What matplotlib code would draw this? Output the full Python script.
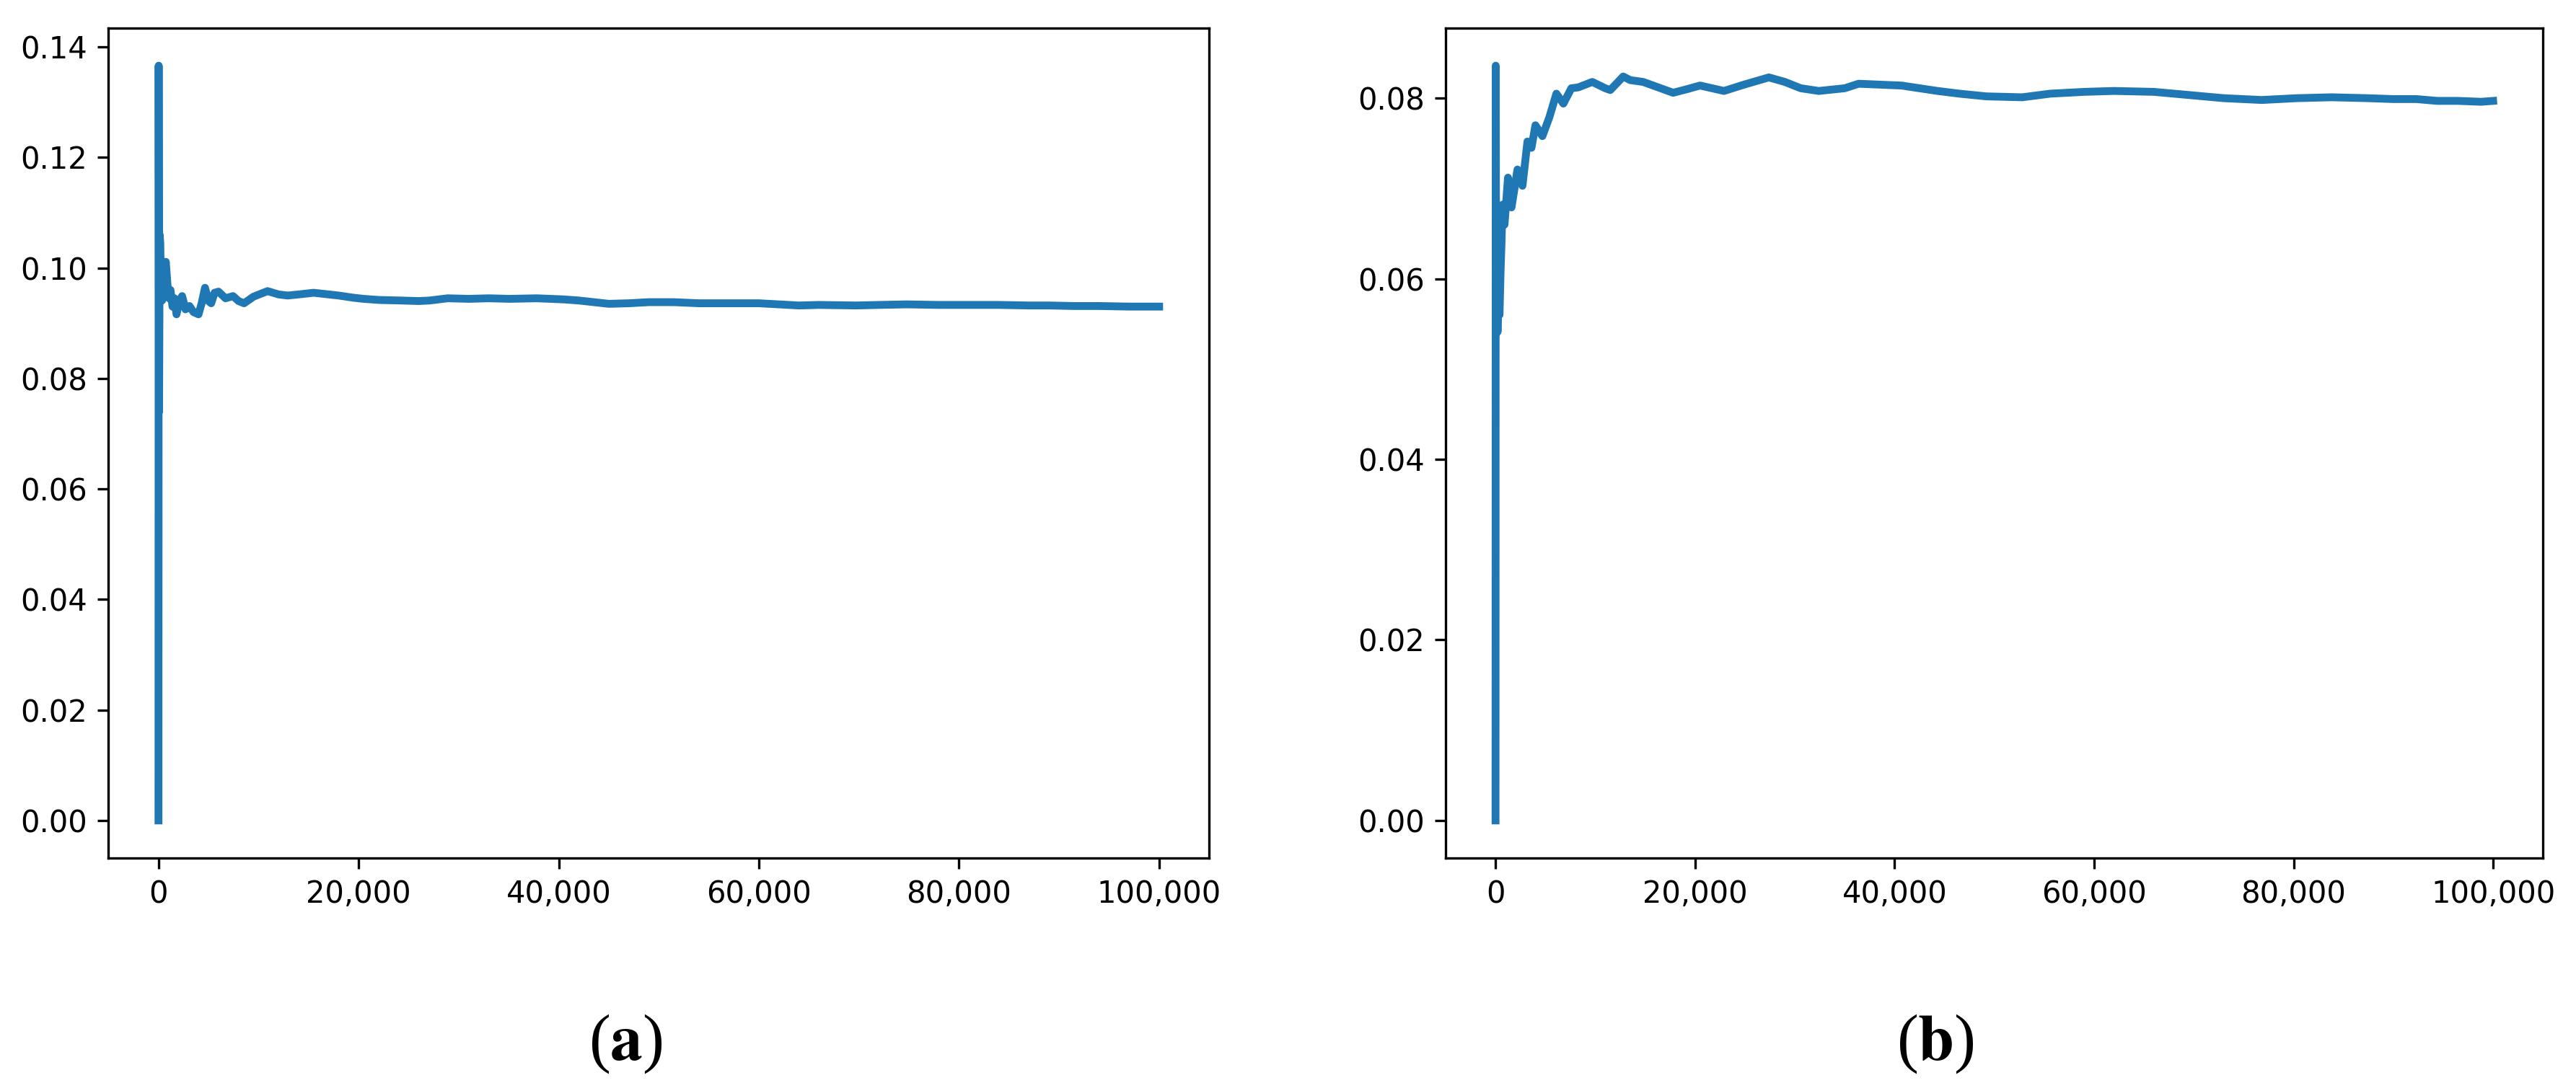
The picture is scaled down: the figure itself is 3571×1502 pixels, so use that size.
import matplotlib
matplotlib.use("Agg")
import matplotlib.pyplot as plt
from matplotlib.ticker import FuncFormatter

# ---- data (x in iterations, y values) ----
x_a = [0, 20, 60, 120, 180, 250, 360, 450, 550, 730, 900, 1050, 1200, 1400, 1600, 1800,
       2100, 2360, 2700, 3100, 3500, 4000, 4300, 4650, 5000, 5270, 5600, 6000, 6700,
       7450, 8000, 8550, 9500, 10900, 12000, 12900, 14000, 15500, 17000, 18000, 19500,
       20500, 22000, 24200, 26000, 27100, 28900, 31000, 33000, 35100, 37800, 40500,
       42000, 43500, 45000, 47000, 49000, 51500, 54000, 57000, 60000, 62000, 64000,
       66000, 69700, 72000, 74800, 78000, 81000, 84000, 87000, 89000, 91500, 94000,
       97000, 100000]
y_a = [0.0, 0.1366, 0.0740, 0.1060, 0.1045, 0.0960, 0.0941, 0.0985, 0.0960, 0.1011, 0.0970,
       0.0945, 0.0960, 0.0930, 0.0945, 0.0916, 0.0940, 0.0949, 0.0925, 0.0931, 0.0920, 0.0916,
       0.0935, 0.0964, 0.0940, 0.0936, 0.0955, 0.0957, 0.0945, 0.0949, 0.0940, 0.0936,
       0.0948, 0.0958, 0.0952, 0.0950, 0.0952, 0.0955, 0.0952, 0.0950, 0.0946, 0.0944,
       0.0942, 0.0941, 0.0940, 0.0941, 0.0945, 0.0944, 0.0945, 0.0944, 0.0945, 0.0943,
       0.0941, 0.0938, 0.0935, 0.0936, 0.0938, 0.0938, 0.0936, 0.0936, 0.0936, 0.0934,
       0.0932, 0.0933, 0.0932, 0.0933, 0.0934, 0.0933, 0.0933, 0.0933, 0.0932, 0.0932,
       0.0931, 0.0931, 0.0930, 0.0930]

x_b = [0, 20, 60, 120, 200, 300, 400, 500, 600, 700, 900, 1250, 1600, 1900, 2200, 2700,
       3200, 3600, 4000, 4700, 5400, 6100, 6800, 7600, 8300, 9700, 11000, 11500, 12800,
       13500, 14800, 16300, 17800, 19200, 20500, 22900, 24900, 27400, 29000, 30600,
       32400, 35000, 36400, 38500, 40700, 42500, 44300, 46500, 49200, 52800, 55600,
       59000, 62000, 66000, 69000, 73000, 76800, 80300, 83800, 87400, 90000, 92300,
       94400, 96500, 98800, 100000]
y_b = [0.0, 0.0836, 0.0600, 0.0650, 0.0541, 0.0590, 0.0560, 0.0606, 0.0640, 0.0682, 0.0660,
       0.0712, 0.0679, 0.0700, 0.0721, 0.0703, 0.0752, 0.0745, 0.0770, 0.0758, 0.0779,
       0.0805, 0.0794, 0.0811, 0.0812, 0.0818, 0.0811, 0.0809, 0.0824, 0.0820, 0.0818,
       0.0812, 0.0806, 0.0810, 0.0814, 0.0808, 0.0815, 0.0823, 0.0818, 0.0811, 0.0808,
       0.0811, 0.0816, 0.0815, 0.0814, 0.0811, 0.0808, 0.0805, 0.0802, 0.0801, 0.0805,
       0.0807, 0.0808, 0.0807, 0.0804, 0.0800, 0.0798, 0.0800, 0.0801, 0.0800, 0.0799,
       0.0799, 0.0797, 0.0797, 0.0796, 0.0797]

panel_labels = ["a", "b"]

W, H, DPI = 3571, 1502, 300
fig = plt.figure(figsize=(W / DPI, H / DPI), dpi=DPI)

ax_a = fig.add_axes([0.0421, 0.2076, 0.4273, 0.7666])
ax_b = fig.add_axes([0.5612, 0.2076, 0.4260, 0.7666])

color = "#1f77b4"
fmt = FuncFormatter(lambda v, p: f"{v:,.0f}")

for ax, xs, ys in [(ax_a, x_a, y_a), (ax_b, x_b, y_b)]:
    ax.plot(xs, ys, color=color, linewidth=2.6)
    ax.xaxis.set_major_formatter(fmt)
    ax.set_xticks([0, 20000, 40000, 60000, 80000, 100000])

ax_a.set_yticks([0.00, 0.02, 0.04, 0.06, 0.08, 0.10, 0.12, 0.14])
ax_b.set_yticks([0.00, 0.02, 0.04, 0.06, 0.08])
ax_a.yaxis.set_major_formatter(FuncFormatter(lambda v, p: f"{v:.2f}"))
ax_b.yaxis.set_major_formatter(FuncFormatter(lambda v, p: f"{v:.2f}"))

plt.rcParams["mathtext.fontset"] = "stix"
for xpos, lab in zip([0.2428, 0.7513], panel_labels):
    fig.text(xpos, 0.036, "(" + r"$\mathbf{" + lab + "}$" + ")", ha="center", va="center",
             fontsize=21.5, family="Liberation Serif")

fig.savefig("out.png", dpi=DPI)
